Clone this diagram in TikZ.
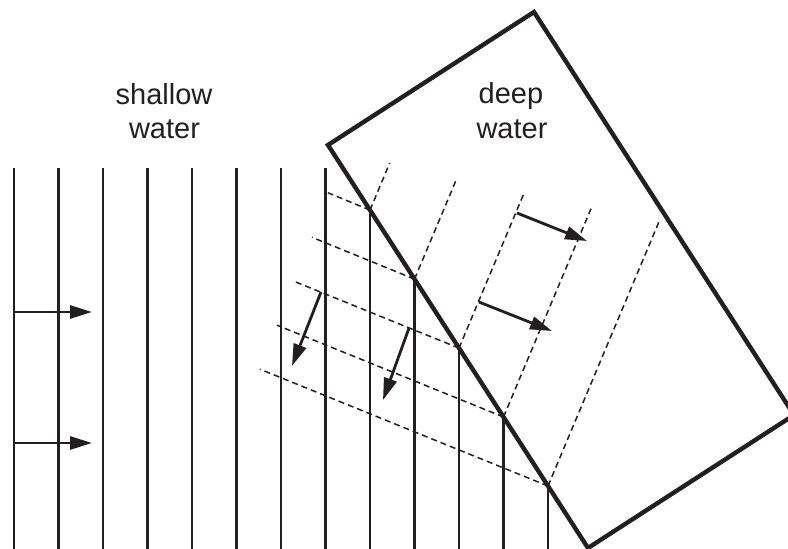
\documentclass[tikz,border=0pt]{standalone}
\usepackage{fontspec}
\setmainfont{Liberation Sans}
\usetikzlibrary{arrows.meta}
\definecolor{ink}{RGB}{35,31,32}
\tikzset{
  wave/.style={draw=ink,line width=2.8pt},
  boxline/.style={draw=ink,line width=4.4pt,line join=miter},
  dline/.style={draw=ink,line width=1.5pt,dash pattern=on 6pt off 4pt},
  arr/.style={draw=ink,line width=2.8pt,-{Triangle[length=22pt,width=13pt]}},
  lbl/.style={text=ink,font=\fontsize{29}{34}\selectfont,anchor=base,inner sep=0pt}
}
\begin{document}
\begin{tikzpicture}[x=1pt,y=-1pt]
\useasboundingbox (0,0) rectangle (788,549);
\clip (0,0) rectangle (788,549);
% labels
\node[lbl] (sh1) at (164,104) {shallow};
\node[lbl] (sh2) at (164.5,138) {water};
\node[lbl] (dp1) at (511,103) {deep};
\node[lbl] (dp2) at (512,138) {water};
% box corners
\coordinate (L) at (328,145);
\coordinate (T) at (534,12);
\coordinate (R) at (794,415);
\coordinate (B) at (588,548);
% shallow-water wave lines
\foreach \i in {0,...,7}{
  \draw[wave] ({14+44.5*\i},168) -- ({14+44.5*\i},549);
}
% intersection points with box edge
\foreach \i/\yy in {8/210.1,9/279.1,10/348.1,11/417,12/486}{
  \coordinate (P\i) at ({14+44.5*\i},\yy);
  \draw[wave] (P\i) -- ({14+44.5*\i},549);
}
% deep-water wavefronts
\coordinate (D8) at (389.7,163);
\coordinate (D9) at (457,178);
\coordinate (D10) at (524.5,192);
\coordinate (D11) at (591.7,207);
\coordinate (D12) at (659.3,221);
\foreach \i in {8,...,12}{ \draw[dline] (P\i) -- (D\i); }
% continuation dashed lines on the left
\coordinate (E8) at (328,192.8);
\coordinate (E9) at (312,237.3);
\coordinate (E10) at (295,281.7);
\coordinate (E11) at (277,325.2);
\coordinate (E12) at (260,369.2);
\foreach \i in {8,...,12}{ \draw[dline] (P\i) -- (E\i); }
% box
\draw[boxline] (L) -- (T) -- (R) -- (B) -- cycle;
% arrows
\coordinate (a1s) at (14,312);   \coordinate (a1e) at (92,312);
\coordinate (a2s) at (14,443);   \coordinate (a2e) at (92,443);
\coordinate (a3s) at (517,213);  \coordinate (a3e) at (587,241);
\coordinate (a4s) at (479,302);  \coordinate (a4e) at (552,331);
\coordinate (a5s) at (321,292);  \coordinate (a5e) at (292,366);
\coordinate (a6s) at (409,328);  \coordinate (a6e) at (383,400);
\foreach \k in {1,...,6}{ \draw[arr] (a\k s) -- (a\k e); }
\end{tikzpicture}
\end{document}
